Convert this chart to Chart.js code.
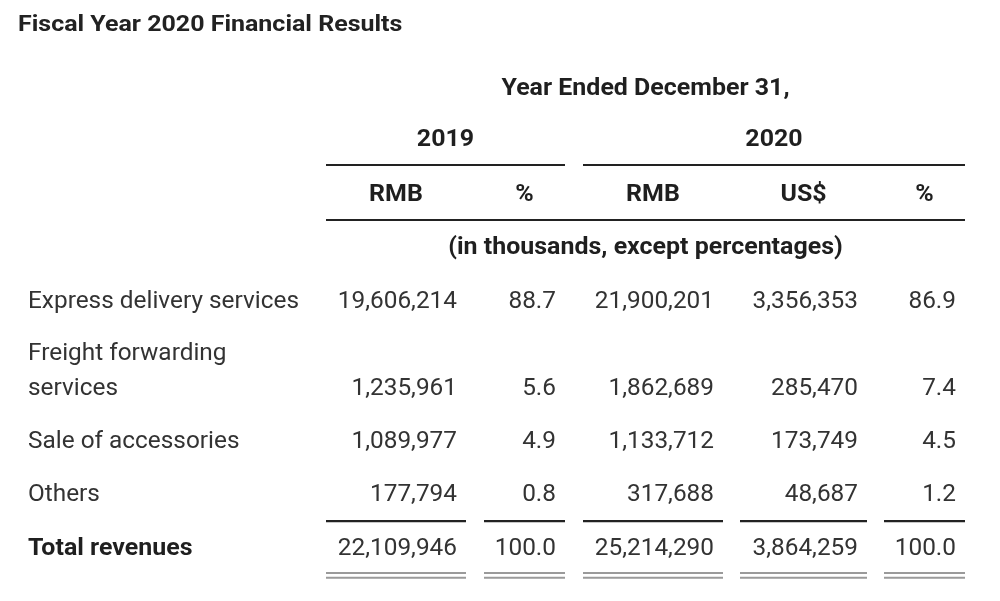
<!DOCTYPE html>
<html>
<head>
<meta charset="utf-8">
<title>Fiscal Year 2020 Financial Results</title>
<script src="https://cdn.jsdelivr.net/npm/chart.js@4.4.1/dist/chart.umd.min.js"></script>
<style>
  html, body { margin: 0; padding: 0; background: #fff; }
  canvas { display: block; }
</style>
</head>
<body>
<canvas id="finTable" width="1000" height="601"></canvas>
<script>
// table data
const titleText = 'Fiscal Year 2020 Financial Results';
const rowLabels = [['Express delivery services'], ['Freight forwarding', 'services'], ['Sale of accessories'], ['Others']];
const rmb2019 = [19606214, 1235961, 1089977, 177794];
const pct2019 = [88.7, 5.6, 4.9, 0.8];
const rmb2020 = [21900201, 1862689, 1133712, 317688];
const usd2020 = [3356353, 285470, 173749, 48687];
const pct2020 = [86.9, 7.4, 4.5, 1.2];
const totalLabel = 'Total revenues';
const totals = [22109946, 100.0, 25214290, 3864259, 100.0];
const columnHeads = ['RMB', '%', 'RMB', 'US$', '%'];
const yearHeads = ['2019', '2020'];
const periodHead = 'Year Ended December 31,';
const unitNote = '(in thousands, except percentages)';

// layout (x in px units, y in row units)
const colSpan = [[326, 466], [484, 565], [583, 723], [740, 867], [884, 965]];
const yearCols = [[0, 1], [2, 4]];
const rowY = { title: -1.19, period: 0, year: 0.96, yearRule: 1.47, head: 2.0, headRule: 2.51, note: 3.0,
  rows: [[4.02], [5.0, 5.66], [6.66], [7.66]], totalRule: 8.19, total: 8.68, dbl: [9.17, 9.26] };

const isPct = [false, true, false, false, true];
const fmt = (v, pct) => pct ? v.toFixed(1) : v.toLocaleString('en-US');
const series = [rmb2019, pct2019, rmb2020, usd2020, pct2020];

const FONT = 'Roboto';

function txt(ctx, s, x, y, align, font, color, sx) {
  ctx.save();
  ctx.font = font;
  ctx.fillStyle = color;
  ctx.textBaseline = 'middle';
  ctx.textAlign = 'left';
  const w = ctx.measureText(s).width * sx;
  const x0 = align === 'right' ? x - w : align === 'center' ? x - w / 2 : x;
  ctx.translate(x0, y + 2);
  ctx.scale(sx, 1);
  ctx.fillText(s, 0, 0);
  ctx.restore();
}

function rule(ctx, x1, x2, y, color, w) {
  ctx.save();
  ctx.strokeStyle = color;
  ctx.lineWidth = w;
  ctx.beginPath();
  ctx.moveTo(x1, y);
  ctx.lineTo(x2, y);
  ctx.stroke();
  ctx.restore();
}

const tablePlugin = {
  id: 'tablePlugin',
  afterDraw(chart) {
    const ctx = chart.ctx;
    const X = v => chart.scales.x.getPixelForValue(v);
    const Y = v => chart.scales.y.getPixelForValue(v);
    const reg = `23px ${FONT}`, bold = `bold 23px ${FONT}`;
    const dark = '#1f1f1f', body = '#333333';
    const RS = 1.06, BS = 1.085;
    const left = X(colSpan[0][0]), right = X(colSpan[4][1]);

    txt(ctx, titleText, X(18), Y(rowY.title), 'left', `bold 22px ${FONT}`, '#222222', 1.135);

    txt(ctx, periodHead, (left + right) / 2, Y(rowY.period), 'center', bold, dark, BS);
    yearCols.forEach((g, i) => {
      const a = X(colSpan[g[0]][0]), b = X(colSpan[g[1]][1]);
      txt(ctx, yearHeads[i], (a + b) / 2, Y(rowY.year), 'center', bold, dark, BS);
      rule(ctx, a, b, Y(rowY.yearRule), '#222', 2);
    });
    colSpan.forEach((c, i) => {
      txt(ctx, columnHeads[i], (X(c[0]) + X(c[1])) / 2, Y(rowY.head), 'center', bold, dark, BS);
    });
    rule(ctx, left, right, Y(rowY.headRule), '#222', 2);
    txt(ctx, unitNote, (left + right) / 2, Y(rowY.note), 'center', bold, dark, BS);

    rowLabels.forEach((lines, r) => {
      lines.forEach((l, k) => txt(ctx, l, X(28), Y(rowY.rows[r][k]), 'left', reg, body, RS));
      const yv = rowY.rows[r][rowY.rows[r].length - 1];
      series.forEach((s, i) => {
        txt(ctx, fmt(s[r], isPct[i]), X(colSpan[i][1] - 9), Y(yv), 'right', reg, body, RS);
      });
    });

    txt(ctx, totalLabel, X(28), Y(rowY.total), 'left', bold, dark, BS);
    colSpan.forEach((c, i) => {
      rule(ctx, X(c[0]), X(c[1]), Y(rowY.totalRule), '#222', 2.2);
      txt(ctx, fmt(totals[i], isPct[i]), X(c[1] - 9), Y(rowY.total), 'right', reg, body, RS);
      rowY.dbl.forEach(d => rule(ctx, X(c[0]), X(c[1]), Y(d), '#9a9a9a', 2));
    });
  }
};

function build() {
  new Chart(document.getElementById('finTable'), {
    type: 'scatter',
    data: { datasets: [{ data: [], pointRadius: 0 }] },
    options: {
      responsive: false,
      animation: false,
      devicePixelRatio: 1,
      layout: { padding: 0 },
      plugins: {
        legend: { display: false },
        tooltip: { enabled: false },
        title: { display: false }
      },
      scales: {
        x: { type: 'linear', display: false, min: 0, max: 1000 },
        y: { type: 'linear', display: false, reverse: true, min: -1.6415, max: 9.698 }
      }
    },
    plugins: [tablePlugin]
  });
}

if (document.fonts && document.fonts.load) {
  Promise.all([document.fonts.load(`23px ${FONT}`), document.fonts.load(`bold 23px ${FONT}`), document.fonts.load(`bold 22px ${FONT}`)])
    .then(build, build);
} else {
  build();
}
</script>
</body>
</html>
